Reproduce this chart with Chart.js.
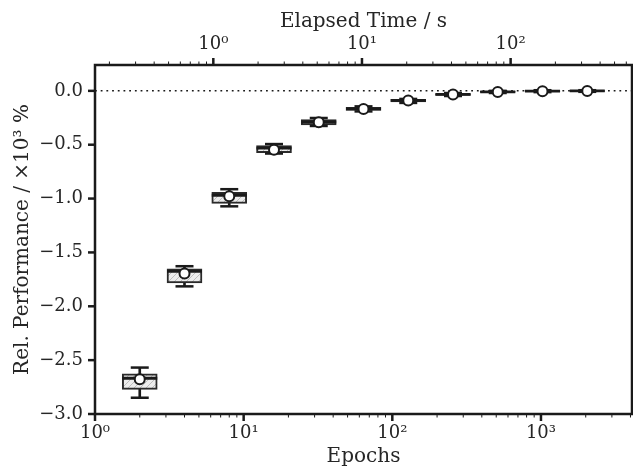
<!DOCTYPE html>
<html>
<head>
<meta charset="utf-8">
<script src="https://cdn.jsdelivr.net/npm/chart.js@4.4.1/dist/chart.umd.min.js"></script>
<style>
  body { margin: 0; background: #fff; }
  canvas { display: block; }
</style>
</head>
<body>
<canvas id="perfChart" width="633" height="469"></canvas>
<script>
// Relative performance vs. training epochs (box plots, log x axis)

const epochs = [2, 4, 8, 16, 32, 64, 128, 256, 512, 1024, 2048];
const whiskerHigh = [-2.569, -1.628, -0.913, -0.494, -0.252, -0.144, -0.075, -0.020, 0.000, 0.006, 0.006];
const boxHigh     = [-2.628, -1.652, -0.941, -0.508, -0.266, -0.154, -0.079, -0.025, -0.004, 0.002, 0.003];
const medians     = [-2.668, -1.675, -0.969, -0.531, -0.289, -0.168, -0.089, -0.033, -0.009, -0.003, -0.001];
const means       = [-2.678, -1.696, -0.979, -0.547, -0.292, -0.168, -0.090, -0.034, -0.010, -0.003, -0.001];
const boxLow      = [-2.771, -1.783, -1.044, -0.573, -0.317, -0.182, -0.103, -0.042, -0.015, -0.008, -0.005];
const whiskerLow  = [-2.849, -1.815, -1.072, -0.582, -0.326, -0.191, -0.112, -0.048, -0.020, -0.012, -0.009];

const xTickValues = [1, 10, 100, 1000];
const xTickLabels = ['10⁰', '10¹', '10²', '10³'];
const timeTickValues = [1, 10, 100];
const timeTickLabels = ['10⁰', '10¹', '10²'];
const yTickValues = [-3.0, -2.5, -2.0, -1.5, -1.0, -0.5, 0.0];
const yTickLabels = ['−3.0', '−2.5', '−2.0', '−1.5', '−1.0', '−0.5', '0.0'];

const EPOCH_MIN = 1, EPOCH_MAX = 4096;
const TIME_MIN = 0.16, TIME_MAX = 0.16 * 4096;
const Y_MIN = -3.0, Y_MAX = 0.24;

const ink = '#1a1a1a';
const textCol = '#262626';
const serif = 'DejaVu Serif';

// hatched light grey fill for the boxes
function makeHatch() {
  const c = document.createElement('canvas');
  c.width = 6; c.height = 6;
  const g = c.getContext('2d');
  g.fillStyle = '#ececec';
  g.fillRect(0, 0, 6, 6);
  g.strokeStyle = '#bdbdbd';
  g.lineWidth = 1;
  g.beginPath();
  g.moveTo(0, 6); g.lineTo(6, 0);
  g.moveTo(-3, 3); g.lineTo(3, -3);
  g.moveTo(3, 9); g.lineTo(9, 3);
  g.stroke();
  return document.getElementById('perfChart').getContext('2d').createPattern(c, 'repeat');
}

// frame + tick marks (major long/thick, minor short/thin)
const frameTicks = {
  id: 'frameTicks',
  afterDraw(chart) {
    const { ctx, chartArea: a, scales } = chart;
    ctx.save();
    ctx.strokeStyle = ink;
    ctx.lineCap = 'butt';

    function tick(x1, y1, x2, y2, w) {
      ctx.lineWidth = w;
      ctx.beginPath(); ctx.moveTo(x1, y1); ctx.lineTo(x2, y2); ctx.stroke();
    }

    [['x', a.bottom, 1], ['x2', a.top, -1]].forEach(([id, y0, dir]) => {
      const s = scales[id];
      const lo = Math.floor(Math.log10(s.min)), hi = Math.ceil(Math.log10(s.max));
      for (let d = lo; d <= hi; d++) {
        for (let k = 1; k <= 9; k++) {
          const v = k * Math.pow(10, d);
          if (v < s.min * 0.999 || v > s.max * 1.001) continue;
          const px = s.getPixelForValue(v);
          if (k === 1) tick(px, y0, px, y0 + dir * 7, 2.5);
          else tick(px, y0, px, y0 + dir * 3.5, 1);
        }
      }
    });

    const ys = scales.y;
    yTickValues.forEach(v => {
      const py = ys.getPixelForValue(v);
      tick(a.left, py, a.left - 7, py, 2.5);
    });

    ctx.lineWidth = 2.5;
    ctx.strokeRect(a.left, a.top, a.right - a.left, a.bottom - a.top);
    ctx.restore();
  }
};

function noSidePadding(s, h) {
  s.height = h;
  s.paddingLeft = 0;
  s.paddingRight = 0;
}

const hatch = makeHatch();

new Chart(document.getElementById('perfChart'), {
  type: 'bar',
  data: {
    datasets: [
      {
        type: 'line',
        data: [{ x: EPOCH_MIN, y: 0 }, { x: EPOCH_MAX, y: 0 }],
        borderColor: ink,
        borderWidth: 1.5,
        borderDash: [1.8, 3.9],
        pointRadius: 0,
        order: 10
      },
      {
        // whisker stems
        type: 'bar',
        data: epochs.map((e, i) => ({ x: e, y: [whiskerLow[i], whiskerHigh[i]] })),
        backgroundColor: ink,
        barThickness: 2,
        grouped: false,
        order: 6
      },
      {
        // interquartile boxes
        type: 'bar',
        data: epochs.map((e, i) => ({ x: e, y: [boxLow[i], boxHigh[i]] })),
        backgroundColor: hatch,
        borderColor: '#2a2a2a',
        borderWidth: 2,
        borderSkipped: false,
        barThickness: 35,
        grouped: false,
        order: 5
      },
      {
        // whisker caps
        type: 'scatter',
        data: epochs.map((e, i) => ({ x: e, y: whiskerLow[i] }))
          .concat(epochs.map((e, i) => ({ x: e, y: whiskerHigh[i] }))),
        pointStyle: 'line',
        pointRadius: 9,
        pointBorderWidth: 2.5,
        pointBorderColor: ink,
        order: 4
      },
      {
        // medians
        type: 'scatter',
        data: epochs.map((e, i) => ({ x: e, y: medians[i] })),
        pointStyle: 'line',
        pointRadius: 17.5,
        pointBorderWidth: 2.8,
        pointBorderColor: ink,
        order: 3
      },
      {
        // means
        type: 'scatter',
        data: epochs.map((e, i) => ({ x: e, y: means[i] })),
        pointStyle: 'circle',
        pointRadius: 5,
        pointBackgroundColor: '#ffffff',
        pointBorderColor: ink,
        pointBorderWidth: 2,
        order: 1
      }
    ]
  },
  options: {
    responsive: false,
    animation: false,
    layout: { autoPadding: false, padding: { right: 1 } },
    plugins: { legend: { display: false }, tooltip: { enabled: false } },
    scales: {
      x: {
        type: 'logarithmic',
        position: 'bottom',
        offset: false,
        min: EPOCH_MIN,
        max: EPOCH_MAX,
        border: { display: false },
        grid: { display: false, offset: false, drawTicks: true, tickLength: 7 },
        afterBuildTicks: s => { s.ticks = xTickValues.map(v => ({ value: v, major: true })); },
        afterFit: s => noSidePadding(s, 55),
        ticks: {
          autoSkip: false,
          maxRotation: 0,
          padding: 2,
          color: textCol,
          font: { family: serif, size: 18 },
          callback: (v, i) => xTickLabels[i]
        },
        title: {
          display: true,
          text: 'Epochs',
          color: textCol,
          font: { family: serif, size: 20 },
          padding: { top: 0, bottom: 0 }
        }
      },
      x2: {
        type: 'logarithmic',
        position: 'top',
        offset: false,
        min: TIME_MIN,
        max: TIME_MAX,
        border: { display: false },
        grid: { display: false, offset: false, drawTicks: true, tickLength: 7 },
        afterBuildTicks: s => { s.ticks = timeTickValues.map(v => ({ value: v, major: true })); },
        afterFit: s => noSidePadding(s, 65),
        ticks: {
          autoSkip: false,
          maxRotation: 0,
          padding: 3,
          color: textCol,
          font: { family: serif, size: 18 },
          callback: (v, i) => timeTickLabels[i]
        },
        title: {
          display: true,
          text: 'Elapsed Time / s',
          color: textCol,
          font: { family: serif, size: 20 },
          padding: { top: 10, bottom: 0 }
        }
      },
      y: {
        type: 'linear',
        min: Y_MIN,
        max: Y_MAX,
        border: { display: false },
        grid: { display: false, drawTicks: true, tickLength: 7 },
        afterBuildTicks: s => { s.ticks = yTickValues.map(v => ({ value: v })); },
        afterFit: s => { s.width = 95; },
        ticks: {
          padding: 5,
          color: textCol,
          font: { family: serif, size: 18 },
          callback: (v, i) => yTickLabels[i]
        },
        title: {
          display: true,
          text: 'Rel. Performance / ×10³ %',
          color: textCol,
          font: { family: serif, size: 20 },
          padding: { top: 11, bottom: 0 }
        }
      }
    }
  },
  plugins: [frameTicks]
});
</script>
</body>
</html>
